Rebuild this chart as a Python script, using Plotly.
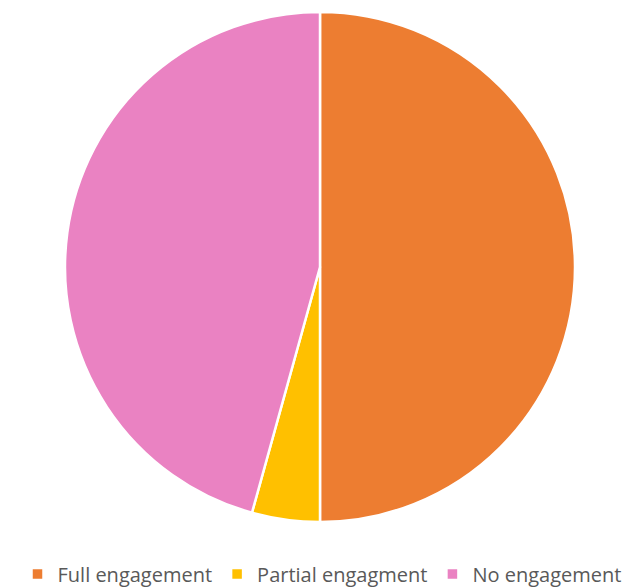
import plotly.graph_objects as go

labels = ["Full engagement", "Partial engagment", "No engagement"]
values = [50.0, 4.3, 45.7]
colors = ["#ED7D31", "#FFC000", "#EA82C2"]

W, H = 641, 587
fig = go.Figure(go.Pie(
    labels=labels, values=values, sort=False, direction="clockwise", rotation=0,
    marker=dict(colors=colors, line=dict(color="white", width=2.5)),
    textinfo="none", hoverinfo="label+percent",
    domain=dict(x=[65/W, 575/W], y=[(H-522)/H, (H-12)/H]),
))
fig.update_layout(
    width=W, height=H, margin=dict(l=0, r=0, t=0, b=0, autoexpand=False),
    paper_bgcolor="white", plot_bgcolor="white",
    font=dict(family="Open Sans", size=20, color="#595959"),
    legend=dict(orientation="h", x=322/W, xanchor="center", y=(H-574)/H, yanchor="middle",
                font=dict(size=20, color="#595959"), itemwidth=30, traceorder="normal"),
)
fig.write_html("out.html", config={"displayModeBar": False},
               post_script="document.body.style.margin='0';document.body.style.overflow='hidden';")
